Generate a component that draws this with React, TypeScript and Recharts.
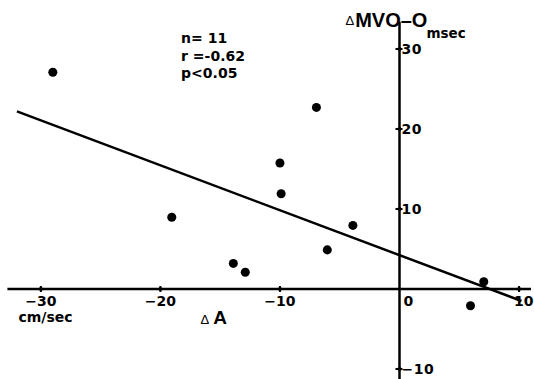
import React from 'react';
import { ScatterChart, Scatter, XAxis, YAxis, ZAxis, ReferenceLine, ReferenceDot } from 'recharts';

// measured points (ΔA cm/sec, ΔMVO-O msec)
const deltaA = [-29.0, -6.95, -10.0, -9.9, -19.05, -3.9, -6.04, -13.9, -12.9, 7.05, 5.94];
const deltaMVO = [27.1, 22.7, 15.75, 11.9, 8.97, 7.95, 4.89, 3.2, 2.1, 0.9, -2.1];

// regression line end points
const fitX = [-32, 10.2];
const fitY = [22.2, -1.5];

const xTicks = [-30, -20, -10, 10];
const yTicks = [30, 20, 10, -10];

const statLines = ['n= 11', 'r =-0.62', 'p<0.05'];

const points = deltaA.map((x, i) => ({ x, y: deltaMVO[i] }));
const fitSegment = fitX.map((x, i) => ({ x, y: fitY[i] }));

const NUM_FONT = '"DejaVu Sans", sans-serif';
const TITLE_FONT = '"Liberation Sans", Arial, sans-serif';

const fmt = (v: number) => (v < 0 ? '\u2212' + Math.abs(v) : String(v));

const XTick = (v: number) => (props: any) => {
  const { cx, cy } = props;
  return (
    <g>
      <line x1={cx} x2={cx} y1={cy - 3} y2={cy + 3} stroke="#000" strokeWidth={2} />
      <circle cx={cx} cy={cy} r={2} fill="#000" />
      <text
        x={v === 10 ? cx - 5 : cx}
        y={cy + 17}
        textAnchor={v === 10 ? 'start' : 'middle'}
        fontFamily={NUM_FONT}
        fontWeight="bold"
        fontSize={14}
        fill="#000"
      >
        {fmt(v)}
      </text>
    </g>
  );
};

const YTick = (v: number) => (props: any) => {
  const { cx, cy } = props;
  return (
    <g>
      <line x1={cx - 4} x2={cx + 3} y1={cy} y2={cy} stroke="#000" strokeWidth={2} />
      <circle cx={cx} cy={cy} r={2} fill="#000" />
      <text
        x={cx + 2}
        y={cy + 5}
        textAnchor="start"
        fontFamily={NUM_FONT}
        fontWeight="bold"
        fontSize={14}
        fill="#000"
        letterSpacing={0.5}
      >
        {fmt(v)}
      </text>
    </g>
  );
};

const OriginLabel = (props: any) => {
  const { cx, cy } = props;
  return (
    <g>
      <text x={cx + 4} y={cy + 17} fontFamily={NUM_FONT} fontWeight="bold" fontSize={14} fill="#000">
        0
      </text>
      <text x={cx - 354} y={cy + 33} textAnchor="middle" fontFamily={NUM_FONT} fontWeight="bold" fontSize={14} fill="#000">
        cm/sec
      </text>
      <text x={cx - 199} y={cy + 35} fontFamily={TITLE_FONT} fill="#000">
        <tspan fontSize={13} fontWeight="normal">Δ</tspan>
        <tspan fontSize={19} fontWeight="bold" dx={4}>A</tspan>
      </text>
    </g>
  );
};

const YTitle = (props: any) => {
  const { cx, cy } = props;
  return (
    <g>
      <text x={cx - 54} y={cy} fontFamily={TITLE_FONT} fill="#000">
        <tspan fontSize={13} fontWeight="normal" dy={-2}>Δ</tspan>
        <tspan fontSize={20} fontWeight="bold" dx={1} dy={2}>MVO–O</tspan>
      </text>
      <text x={cx + 27} y={cy + 11.5} fontFamily={NUM_FONT} fontWeight="bold" fontSize={13.5} fill="#000">
        msec
      </text>
    </g>
  );
};

const Stats = (props: any) => {
  const { cx, cy } = props;
  return (
    <text x={cx} y={cy} fontFamily={NUM_FONT} fontWeight="bold" fontSize={14} fill="#000">
      {statLines.map((s, i) => (
        <tspan key={s} x={cx} dy={i === 0 ? 0 : 17.5}>
          {s}
        </tspan>
      ))}
    </text>
  );
};

const App: React.FC = () => {
  return (
    <div style={{ position: 'absolute', left: 0, top: 0, background: '#fff' }}>
      <ScatterChart width={534} height={379} margin={{ top: 17, right: 3, bottom: 2, left: 5 }}>
        <XAxis type="number" dataKey="x" domain={[-33, 11]} hide allowDataOverflow />
        <YAxis type="number" dataKey="y" domain={[-11, 34]} hide allowDataOverflow />
        <ZAxis range={[52, 52]} />
        <ReferenceLine segment={[{ x: -32.8, y: 0 }, { x: 11, y: 0 }]} stroke="#000" strokeWidth={2.5} ifOverflow="visible" />
        <ReferenceLine segment={[{ x: 0, y: 33.4 }, { x: 0, y: -11.4 }]} stroke="#000" strokeWidth={2.5} ifOverflow="visible" />
        <ReferenceLine segment={fitSegment} stroke="#000" strokeWidth={2.5} ifOverflow="visible" />
        {xTicks.map((v) => (
          <ReferenceDot key={'x' + v} x={v} y={0} r={2} ifOverflow="visible" shape={XTick(v)} />
        ))}
        {yTicks.map((v) => (
          <ReferenceDot key={'y' + v} x={0} y={v} r={2} ifOverflow="visible" shape={YTick(v)} />
        ))}
        <ReferenceDot x={0} y={0} r={2} ifOverflow="visible" shape={OriginLabel} />
        <ReferenceDot x={0} y={32.8} r={2} ifOverflow="visible" shape={YTitle} />
        <ReferenceDot x={-18.27} y={30.75} r={2} ifOverflow="visible" shape={Stats} />
        <Scatter data={points} fill="#000" shape="circle" isAnimationActive={false} />
      </ScatterChart>
    </div>
  );
};

export default App;
